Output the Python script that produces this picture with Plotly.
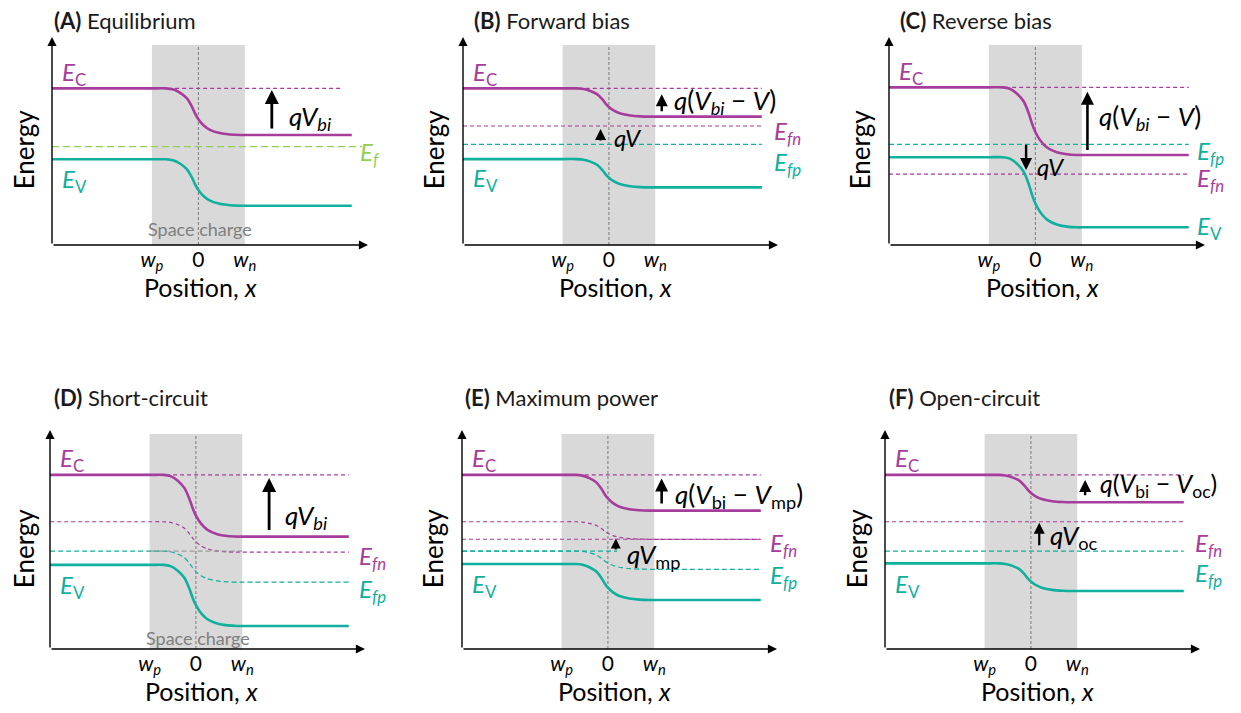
import plotly.graph_objects as go

# ---------------- data ----------------
PANEL_LETTERS = ["A", "B", "C", "D", "E", "F"]
TITLES = ["Equilibrium", "Forward bias", "Reverse bias", "Short-circuit", "Maximum power", "Open-circuit"]

# band-edge and (quasi) Fermi levels, p-side (left) and n-side (right), energy units 0..10
EC_LEFT = [7.53, 7.53, 7.58, 7.95, 7.95, 7.95]
EC_RIGHT = [5.29, 6.17, 4.33, 5.13, 6.32, 6.70]
EV_LEFT = [4.12, 4.13, 4.22, 3.84, 3.88, 3.91]
EV_RIGHT = [1.89, 2.77, 0.85, 1.05, 2.24, 2.65]
EFN_LEFT = [4.73, 5.72, 3.41, 5.81, 5.81, 5.81]
EFN_RIGHT = [4.73, 5.72, 3.41, 4.42, 5.01, 5.81]
EFP_LEFT = [4.73, 4.84, 4.84, 4.47, 4.47, 4.47]
EFP_RIGHT = [4.73, 4.84, 4.84, 3.05, 3.64, 4.47]
SPACE_CHARGE_TOP = [9.62, 9.62, 9.62, 9.82, 9.82, 9.82]

# normalized band-bending profile across the space-charge region
PROFILE_X = [-1.0, -0.7, -0.55, -0.4, -0.25, -0.14, -0.07, 0.0, 0.11, 0.25, 0.46, 0.68, 0.9, 1.0]
PROFILE_FRAC = [0.0, 0.0, 0.02, 0.09, 0.21, 0.39, 0.54, 0.66, 0.79, 0.89, 0.96, 0.99, 1.0, 1.0]

TICK_VALS = [-1, 0, 1]
TICK_TEXT = ["<i>w<sub>p</sub></i>", "0", "<i>w<sub>n</sub></i>"]

# ---------------- styles / layout ----------------
MAG = "#A63C9C"
TEAL = "#10AF9E"
GREEN = "#92D050"
FILL = "#D9D9D9"
FONT = "Lato"

# the page body adds an 8px margin, so the figure is sized/offset to compensate
PAGE_OFF = 8
W, H = 1241 - PAGE_OFF, 713 - PAGE_OFF

X_MIN, X_MAX, X_END = -3.15, 3.65, 3.3
# panel frame in screen pixels: (y-axis x, x-arrow tip x)
PANEL_X_PX = [(52, 368), (463, 778), (889, 1205), (50, 365), (462, 777), (885, 1200)]
ROW_Y_PX = [(245, 37), (649, 430)]  # (x-axis y, y-arrow tip y)
TITLE_PX = [(52, 20), (472, 20), (898, 20), (52, 397), (463, 397), (887, 397)]
POS_TITLE_X = [0.05, 0.15, 0.15, 0.12, 0.15, 0.15]
ENERGY_SHIFT = [-28, -29, -29, -26, -29, -28]


def fx(px):
    return (px - PAGE_OFF) / W


def fy(py):
    return 1 - (py - PAGE_OFF) / H


fig = go.Figure()
annotations = []
shapes = []


def axn(i):
    return ("x" if i == 0 else f"x{i+1}"), ("y" if i == 0 else f"y{i+1}")


def profile(left, right, x0, x1):
    xs = [x0] + PROFILE_X + [x1]
    ys = [left] + [left + (right - left) * f for f in PROFILE_FRAC] + [right]
    return xs, ys


def add_line(i, xs, ys, color, width, dash="solid", spline=False):
    xr, yr = axn(i)
    fig.add_trace(go.Scatter(
        x=xs, y=ys, xaxis=xr, yaxis=yr, mode="lines", hoverinfo="skip",
        line=dict(color=color, width=width, dash=dash,
                  shape="spline" if spline else "linear", smoothing=0.8),
        showlegend=False))


def level(i, left, right, color, dash, width=1.2, x0=X_MIN, x1=X_END):
    if left == right:
        add_line(i, [x0, x1], [left, left], color, width, dash)
    else:
        xs, ys = profile(left, right, x0, x1)
        add_line(i, xs, ys, color, width, dash, spline=True)


def arrow(i, x, y_tail, y_head, width=2.6):
    xr, yr = axn(i)
    annotations.append(dict(
        x=x, y=y_head, ax=x, ay=y_tail, xref=xr, yref=yr, axref=xr, ayref=yr,
        text="", showarrow=True, arrowhead=2, arrowsize=1.0, arrowwidth=width,
        arrowcolor="black", standoff=0, startstandoff=0))


def label(i, text, x, y, color="black", size=24, xanchor="left"):
    xr, yr = axn(i)
    annotations.append(dict(
        x=x, y=y, xref=xr, yref=yr, text=text, showarrow=False,
        xanchor=xanchor, yanchor="middle",
        font=dict(family=FONT, size=size, color=color)))


MAGDASH = "4px,3px"
TEALDASH = "5px,3px"

for i in range(6):
    xr, yr = axn(i)
    # space-charge region and junction line
    shapes.append(dict(type="rect", xref=xr, yref=yr, x0=-1, x1=1, y0=0,
                       y1=SPACE_CHARGE_TOP[i], fillcolor=FILL, line=dict(width=0), layer="below"))
    shapes.append(dict(type="line", xref=xr, yref=yr, x0=0, x1=0, y0=0,
                       y1=SPACE_CHARGE_TOP[i], line=dict(color="#7a7a7a", width=1, dash="3px,2px"),
                       layer="below"))

    # reference dashed for the p-side conduction band
    ref_start = -1.4 if i == 3 else -0.5
    ref_end = 3.1 if i == 0 else X_END
    add_line(i, [ref_start, ref_end], [EC_LEFT[i], EC_LEFT[i]], MAG, 1.1, MAGDASH)

    if i == 0:
        add_line(i, [X_MIN, 3.52], [EFN_LEFT[i], EFN_LEFT[i]], GREEN, 1.3, "7px,4px")
    else:
        level(i, EFN_LEFT[i], EFN_RIGHT[i], MAG, MAGDASH)
        level(i, EFP_LEFT[i], EFP_RIGHT[i], TEAL, TEALDASH)
    if i == 3:
        add_line(i, [-1, 1], [EFP_LEFT[i], EFP_LEFT[i]], "#8c8c8c", 1.0, TEALDASH)
    if i == 4:
        add_line(i, [X_MIN, X_END], [EFN_RIGHT[i], EFN_RIGHT[i]], MAG, 1.1, MAGDASH)
        add_line(i, [X_MIN, 0.2], [EFP_LEFT[i], EFP_LEFT[i]], TEAL, 1.1, TEALDASH)

    # bands
    level(i, EC_LEFT[i], EC_RIGHT[i], MAG, "solid", width=2.6)
    level(i, EV_LEFT[i], EV_RIGHT[i], TEAL, "solid", width=2.6)

    # axes with arrow heads
    annotations.append(dict(x=X_MAX, y=0, ax=X_MIN, ay=0, xref=xr, yref=yr, axref=xr, ayref=yr,
                            text="", showarrow=True, arrowhead=2, arrowsize=1.3, arrowwidth=1.4,
                            arrowcolor="black", standoff=0))
    annotations.append(dict(x=X_MIN, y=10, ax=X_MIN, ay=0, xref=xr, yref=yr, axref=xr, ayref=yr,
                            text="", showarrow=True, arrowhead=2, arrowsize=1.3, arrowwidth=1.4,
                            arrowcolor="black", standoff=0))

    # axis titles
    annotations.append(dict(x=X_MIN, y=4.6, xref=xr, yref=yr, xshift=ENERGY_SHIFT[i], text="Energy",
                            textangle=-90, showarrow=False,
                            font=dict(family=FONT, size=26, color="black")))
    annotations.append(dict(x=POS_TITLE_X[i], y=0, xref=xr, yref=yr, yshift=-42,
                            text="Position, <i>x</i>", showarrow=False, yanchor="middle",
                            font=dict(family=FONT, size=25, color="black")))

    # panel title
    tx, ty = TITLE_PX[i]
    annotations.append(dict(x=fx(tx), y=fy(ty), xref="paper", yref="paper",
                            xanchor="left", yanchor="middle", showarrow=False,
                            text=f"<b>({PANEL_LETTERS[i]})</b> {TITLES[i]}",
                            font=dict(family=FONT, size=22, color="#1a1a1a")))

    # band labels
    label(i, "<i>E</i><sub>C</sub>", -2.98, EC_LEFT[i] + 0.72, MAG)
    if i == 2:
        label(i, "<i>E</i><sub>V</sub>", 3.43, EV_RIGHT[i], TEAL)
    else:
        label(i, "<i>E</i><sub>V</sub>", -2.98, EV_LEFT[i] - 1.0, TEAL)

# right-hand Fermi-level labels
label(0, "<i>E<sub>f</sub></i>", 3.43, EFN_LEFT[0] - 0.31, GREEN)
label(1, "<i>E<sub>fn</sub></i>", 3.53, EFN_RIGHT[1] - 0.3, MAG)
label(1, "<i>E<sub>fp</sub></i>", 3.53, EFP_RIGHT[1] - 0.9, TEAL)
label(2, "<i>E<sub>fp</sub></i>", 3.43, EFP_RIGHT[2] - 0.37, TEAL)
label(2, "<i>E<sub>fn</sub></i>", 3.43, EFN_RIGHT[2] - 0.28, MAG)
label(3, "<i>E<sub>fn</sub></i>", 3.48, EFN_RIGHT[3] - 0.26, MAG)
label(3, "<i>E<sub>fp</sub></i>", 3.48, EFP_RIGHT[3] - 0.36, TEAL)
label(4, "<i>E<sub>fn</sub></i>", 3.46, EFN_RIGHT[4] - 0.26, MAG)
label(4, "<i>E<sub>fp</sub></i>", 3.46, EFP_RIGHT[4] - 0.34, TEAL)
label(5, "<i>E<sub>fn</sub></i>", 3.49, EFN_RIGHT[5] - 1.06, MAG)
label(5, "<i>E<sub>fp</sub></i>", 3.49, EFP_RIGHT[5] - 1.09, TEAL)

# space-charge captions
label(0, "Space charge", 0.03, 0.77, "#7f7f7f", 18, "center")
label(3, "Space charge", 0.05, 0.5, "#7f7f7f", 18, "center")

# potential-step arrows and their texts
arrow(0, 1.58, EC_RIGHT[0] + 0.24, EC_LEFT[0] - 0.08, 2.8)
label(0, "<i>qV<sub>bi</sub></i>", 1.9, 6.15, size=26)

arrow(1, -0.18, EFP_LEFT[1] + 0.11, EFN_LEFT[1] - 0.14, 2.2)
label(1, "<i>qV</i>", 0.07, 5.19, size=24)
arrow(1, 1.14, EC_RIGHT[1] + 0.19, EC_LEFT[1] - 0.28, 2.4)
label(1, "<i>q</i>(<i>V<sub>bi</sub></i> − <i>V</i>)", 1.36, 6.88, size=26)

arrow(2, -0.2, EFP_LEFT[2] + 0.05, EFN_LEFT[2] + 0.2, 2.4)
label(2, "<i>qV</i>", 0.0, 3.75, size=24)
arrow(2, 1.12, EC_RIGHT[2] + 0.16, EC_LEFT[2] - 0.21, 2.6)
label(2, "<i>q</i>(<i>V<sub>bi</sub></i> − <i>V</i>)", 1.32, 6.11, size=26)

arrow(3, 1.58, EC_RIGHT[3] + 0.23, EC_LEFT[3] - 0.14, 2.8)
label(3, "<i>qV<sub>bi</sub></i>", 1.88, 6.04, size=26)

arrow(4, 1.16, EC_RIGHT[4] + 0.26, EC_LEFT[4] - 0.16, 2.6)
label(4, "<i>q</i>(<i>V</i><sub>bi</sub> − <i>V</i><sub>mp</sub>)", 1.41, 7.03, size=26)
arrow(4, 0.17, EFP_LEFT[4], EFN_RIGHT[4] + 0.04, 2.0)
label(4, "<i>qV</i><sub>mp</sub>", 0.37, 4.29, size=26)

arrow(5, 1.17, EC_RIGHT[5] + 0.25, EC_LEFT[5] - 0.23, 2.4)
label(5, "<i>q</i>(<i>V</i><sub>bi</sub> − <i>V</i><sub>oc</sub>)", 1.45, 7.49, size=25)
arrow(5, 0.18, EFP_LEFT[5] + 0.2, EFN_LEFT[5] - 0.04, 2.2)
label(5, "<i>qV</i><sub>oc</sub>", 0.37, 5.13, size=26)

layout = dict(
    width=W, height=H, margin=dict(l=0, r=0, t=0, b=0),
    paper_bgcolor="white", plot_bgcolor="white", showlegend=False,
    annotations=annotations, shapes=shapes,
)
for i in range(6):
    xkey = "xaxis" if i == 0 else f"xaxis{i+1}"
    ykey = "yaxis" if i == 0 else f"yaxis{i+1}"
    xr, yr = axn(i)
    px0, px1 = PANEL_X_PX[i]
    py0, py1 = ROW_Y_PX[0 if i < 3 else 1]
    layout[xkey] = dict(domain=[fx(px0), fx(px1)], range=[X_MIN, X_MAX], anchor=yr,
                        showgrid=False, zeroline=False, showline=False, ticks="",
                        tickvals=TICK_VALS, ticktext=TICK_TEXT,
                        tickfont=dict(family=FONT, size=21, color="black"))
    layout[ykey] = dict(domain=[fy(py0), fy(py1)], range=[0, 10], anchor=xr,
                        showgrid=False, zeroline=False, showline=False, showticklabels=False,
                        ticks="")
fig.update_layout(**layout)
fig.write_html("out.html")
